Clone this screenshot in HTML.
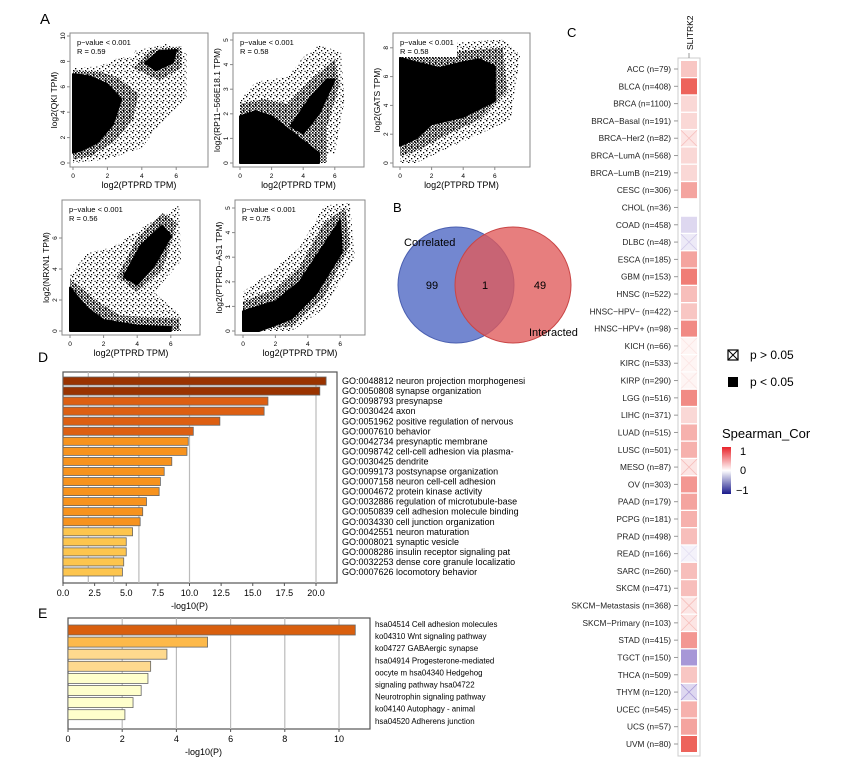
<!DOCTYPE html>
<html><head><meta charset="utf-8">
<style>
html,body{margin:0;padding:0;background:#fff;}
svg{display:block;font-family:"Liberation Sans",Arial,sans-serif;}
</style></head>
<body>
<svg id="fig" width="847" height="779" viewBox="0 0 847 779" xmlns="http://www.w3.org/2000/svg">
<defs>
<pattern id="sparse" width="6" height="6" patternUnits="userSpaceOnUse"><rect x="0" y="0" width="1.4" height="1.4" fill="#000"/><rect x="3" y="2" width="1.3" height="1.3" fill="#000"/><rect x="1" y="4" width="1.2" height="1.2" fill="#000"/><rect x="4.5" y="4.8" width="1.1" height="1.1" fill="#000"/></pattern>
<pattern id="mid" width="3" height="3" patternUnits="userSpaceOnUse"><rect x="0" y="0" width="1.6" height="1.6" fill="#000"/><rect x="1.6" y="1.6" width="1.2" height="1.2" fill="#000"/></pattern>
<linearGradient id="cbar" x1="0" y1="0" x2="0" y2="1"><stop offset="0" stop-color="#e8232a"/><stop offset="0.5" stop-color="#ffffff"/><stop offset="1" stop-color="#1a1a8c"/></linearGradient>
</defs>
<g id="panelA"></g>
<text x="40" y="24" font-size="15">A</text>
<text x="393" y="212" font-size="13">B</text>
<text x="567" y="37" font-size="13">C</text>
<text x="38" y="362" font-size="14">D</text>
<text x="38" y="618" font-size="14">E</text>

<g>
<circle cx="456" cy="285" r="58" fill="#5b72c8" fill-opacity="0.85" stroke="#4a5fb0"/>
<circle cx="513" cy="285" r="58" fill="#e05a5a" fill-opacity="0.78" stroke="#c94545"/>
<text x="404" y="246" font-size="11">Correlated</text>
<text x="529" y="336" font-size="11">Interacted</text>
<text x="432" y="289" font-size="11" text-anchor="middle">99</text>
<text x="485" y="289" font-size="11" text-anchor="middle">1</text>
<text x="540" y="289" font-size="11" text-anchor="middle">49</text>
</g>

<g id="panelD"></g>
<g id="panelE"></g>
<g id="panelC"></g>

<g>
<rect x="728" y="350" width="10" height="10" fill="#fff" stroke="#000" stroke-width="1.2"/>
<line x1="728" y1="350" x2="738" y2="360" stroke="#000"/><line x1="738" y1="350" x2="728" y2="360" stroke="#000"/>
<text x="750" y="359" font-size="12">p &gt; 0.05</text>
<rect x="728" y="377" width="10" height="10" fill="#000"/>
<text x="750" y="386" font-size="12">p &lt; 0.05</text>
</g>
<g>
<text x="722" y="438" font-size="13">Spearman_Cor</text>
<rect x="722" y="447" width="9" height="47" fill="url(#cbar)"/>
<text x="740" y="455" font-size="11">1</text>
<text x="740" y="474" font-size="11">0</text>
<text x="736" y="494" font-size="11">−1</text>
</g>
</svg>
<script>
const NS="http://www.w3.org/2000/svg";
function mk(tag,attrs,parent,text){const e=document.createElementNS(NS,tag);for(const k in attrs)e.setAttribute(k,attrs[k]);if(text!==undefined)e.textContent=text;parent.appendChild(e);return e;}

// ---------- Panel D data ----------
const goTerms=["GO:0048812 neuron projection morphogenesi","GO:0050808 synapse organization","GO:0098793 presynapse","GO:0030424 axon","GO:0051962 positive regulation of nervous","GO:0007610 behavior","GO:0042734 presynaptic membrane","GO:0098742 cell-cell adhesion via plasma-","GO:0030425 dendrite","GO:0099173 postsynapse organization","GO:0007158 neuron cell-cell adhesion","GO:0004672 protein kinase activity","GO:0032886 regulation of microtubule-base","GO:0050839 cell adhesion molecule binding","GO:0034330 cell junction organization","GO:0042551 neuron maturation","GO:0008021 synaptic vesicle","GO:0008286 insulin receptor signaling pat","GO:0032253 dense core granule localizatio","GO:0007626 locomotory behavior"];
const goValues=[20.8,20.3,16.2,15.9,12.4,10.3,9.9,9.8,8.6,8.0,7.7,7.6,6.6,6.3,6.1,5.5,5.0,5.0,4.8,4.7];
const goTicks=[0,2.5,5,7.5,10,12.5,15,17.5,20];
const goTickLabels=["0.0","2.5","5.0","7.5","10.0","12.5","15.0","17.5","20.0"];
const goGrid=[2,4,6,10,20];
// ---------- Panel E data ----------
const keggTerms=["hsa04514 Cell adhesion molecules","ko04310 Wnt signaling pathway","ko04727 GABAergic synapse","hsa04914 Progesterone-mediated","oocyte m hsa04340 Hedgehog","signaling pathway hsa04722","Neurotrophin signaling pathway","ko04140 Autophagy - animal","hsa04520 Adherens junction"];
const keggValues=[10.6,5.15,3.65,3.05,2.95,2.7,2.4,2.1];
const keggTicks=[0,2,4,6,8,10];
const keggGrid=[2,4,6,8,10];
// ---------- Panel C data ----------
const cancers=["ACC (n=79)","BLCA (n=408)","BRCA (n=1100)","BRCA−Basal (n=191)","BRCA−Her2 (n=82)","BRCA−LumA (n=568)","BRCA−LumB (n=219)","CESC (n=306)","CHOL (n=36)","COAD (n=458)","DLBC (n=48)","ESCA (n=185)","GBM (n=153)","HNSC (n=522)","HNSC−HPV− (n=422)","HNSC−HPV+ (n=98)","KICH (n=66)","KIRC (n=533)","KIRP (n=290)","LGG (n=516)","LIHC (n=371)","LUAD (n=515)","LUSC (n=501)","MESO (n=87)","OV (n=303)","PAAD (n=179)","PCPG (n=181)","PRAD (n=498)","READ (n=166)","SARC (n=260)","SKCM (n=471)","SKCM−Metastasis (n=368)","SKCM−Primary (n=103)","STAD (n=415)","TGCT (n=150)","THCA (n=509)","THYM (n=120)","UCEC (n=545)","UCS (n=57)","UVM (n=80)"];
const corValues=[0.22,0.6,0.15,0.15,0.1,0.15,0.15,0.35,0,-0.15,-0.08,0.35,0.5,0.25,0.22,0.45,0.04,0.04,0.04,0.45,0.15,0.3,0.3,0.1,0.4,0.35,0.3,0.25,-0.05,0.25,0.25,0.1,0.1,0.4,-0.4,0.22,-0.15,0.3,0.35,0.6];
const nsFlags=[0,0,0,0,1,0,0,0,0,0,1,0,0,0,0,0,1,1,1,0,0,0,0,1,0,0,0,0,1,0,0,1,1,0,0,0,1,0,0,0];

// ===== Panel D =====
(function(){
const g=document.getElementById('panelD');
const L=63,R=337,T=372,B=583,x0=63,pu=12.65;
const X=v=>x0+v*pu;
const n=goValues.length, step=(B-T-10)/n, bh=step-2;
const frame=mk('rect',{x:L,y:T,width:R-L,height:B-T,fill:'#fff',stroke:'#555','stroke-width':1.2},g);


goGrid.forEach(v=>{const l=mk('line',{x1:X(v),x2:X(v),y1:T,y2:B,stroke:'#bbb','stroke-width':1.2},g);

});
function col(i){return i<2?'#9a3300':i<6?'#dd5f12':i<15?'#f7931e':'#fdc54e';}
goValues.forEach((v,i)=>{const y=T+5+i*step;
const r=mk('rect',{x:X(0),y:y,width:X(v)-X(0),height:bh,fill:col(i),stroke:'#666','stroke-width':0.8},g);


const t=mk('text',{x:R+5,y:y+bh-1,'font-size':9},g,goTerms[i]);

});
goTicks.forEach((v,i)=>{mk('line',{x1:X(v),x2:X(v),y1:B,y2:B+3,stroke:'#555'},g);
const t=mk('text',{x:X(v),y:B+13,'font-size':9,'text-anchor':'middle'},g,goTickLabels[i]);

});
const xt=mk('text',{x:X(10),y:B+26,'font-size':9,'text-anchor':'middle'},g,'-log10(P)');


})();

// ===== Panel E =====
(function(){
const g=document.getElementById('panelE');
const L=68,R=370,T=618,B=729,x0=68,pu=27.1;
const X=v=>x0+v*pu;
const step=12.1, bh=10;
const f=mk('rect',{x:L,y:T,width:R-L,height:B-T,fill:'#fff',stroke:'#555','stroke-width':1.2},g);


keggGrid.forEach(v=>{const l=mk('line',{x1:X(v),x2:X(v),y1:T,y2:B,stroke:'#bbb','stroke-width':1.2},g);

});
const cols=['#d95f0e','#fdb94a','#fed98e','#fed98e','#ffffcc','#ffffcc','#ffffcc','#ffffcc'];
keggValues.forEach((v,i)=>{const y=T+7+i*step;
const r=mk('rect',{x:X(0),y:y,width:X(v)-X(0),height:bh,fill:cols[i],stroke:'#666','stroke-width':0.8},g);

});
keggTerms.forEach((s,i)=>{const t=mk('text',{x:R+5,y:T+9+i*12.1,'font-size':7.9},g,s);

});
keggTicks.forEach(v=>{mk('line',{x1:X(v),x2:X(v),y1:B,y2:B+3,stroke:'#555'},g);
const t=mk('text',{x:X(v),y:B+13,'font-size':9,'text-anchor':'middle'},g,String(v));

});
const xt=mk('text',{x:X(5),y:B+26,'font-size':9,'text-anchor':'middle'},g,'-log10(P)');


})();

// ===== Panel C =====
(function(){
const g=document.getElementById('panelC');
const top=69, step=(744-69)/(cancers.length-1), cx=681, cw=16;
const f=mk('rect',{x:678,y:58,width:22,height:698,fill:'#fff',stroke:'#ccc','stroke-width':1},g);


const h=mk('text',{x:0,y:0,'font-size':8.5,transform:'translate(693,50) rotate(-90)'},g,'SLITRK2');


mk('line',{x1:689,x2:689,y1:53,y2:58,stroke:'#999'},g);
function color(v){const a=Math.min(1,Math.abs(v)/0.75);
const t=v>=0?[232,60,50]:[90,60,180];
return 'rgb('+t.map(c=>Math.round(255+(c-255)*a)).join(',')+')';}
cancers.forEach((c,i)=>{const y=top+i*step;
const t=mk('text',{x:671,y:y+3,'font-size':8.3,'text-anchor':'end',fill:'#222'},g,c);


mk('line',{x1:674,x2:678,y1:y,y2:y,stroke:'#999'},g);
const r=mk('rect',{x:cx,y:y-8,width:cw,height:16,fill:color(corValues[i])},g);


if(nsFlags[i]){const col=color(corValues[i]*2.5);
mk('line',{x1:cx,y1:y-8,x2:cx+cw,y2:y+8,stroke:col,'stroke-width':0.8},g);
mk('line',{x1:cx+cw,y1:y-8,x2:cx,y2:y+8,stroke:col,'stroke-width':0.8},g);}
});
})();

// ===== Panel A scatter plots =====
const plots=[
 {name:'qki',L:70,T:33,W:138,H:134,x0:73,xs:17.2,y0:163,ys:12.7,xt:[0,2,4,6],yt:[0,2,4,6,8,10],ylab:'log2(QKI TPM)',R:'R = 0.59',
  sparse:[[0,0],[0,7.5],[1.5,7.6],[3.5,8.8],[5.5,9.4],[6.6,8.6],[6.6,5.2],[5,3],[4,1.2],[2,0.3]],
  mid:[[[0,0.3],[0,7.3],[1.5,7.2],[2.5,6.8],[3.8,5.5],[3.5,3.5],[2.5,1.8],[1,0.5]],[[3.5,7.5],[4.5,8.9],[6.3,9.2],[6.3,7.5],[5,6.5]]],
  dense:[[[0,0.8],[0,7],[1,6.8],[2,6.2],[2.8,5],[2.3,3],[1.4,1.6],[0.5,1]],[[4.2,7.9],[5,8.8],[6,8.9],[5.8,7.9],[4.8,7.3]]]},
 {name:'rp11',L:233,T:33,W:131,H:134,x0:240,xs:15.8,y0:163,ys:24.6,xt:[0,2,4,6],yt:[0,1,2,3,4,5],ylab:'log2(RP11−566E18.1 TPM)',R:'R = 0.58',
  sparse:[[0,0],[0,2.6],[1,3.3],[3,3.5],[4,4.3],[5,4.8],[6.4,4.5],[6.6,2.5],[6,0.4]],
  mid:[[[0,0],[0,2.4],[1.5,2.6],[3,2.4],[4.5,3.4],[6,4.2],[6.3,3.2],[5.5,1.5],[5.5,0]]],
  dense:[[[0,0],[0,1.9],[1,2.1],[2,1.9],[3,1.4],[4,0.9],[5,0.4],[5,0]],[[3.2,1.5],[4.5,2.7],[5.5,3.4],[6,3.4],[5,2],[4,1.2]]]},
 {name:'gats',L:393,T:33,W:137,H:134,x0:400,xs:15.8,y0:163,ys:14.4,xt:[0,2,4,6],yt:[0,2,4,6,8],ylab:'log2(GATS TPM)',R:'R = 0.58',
  sparse:[[0,0],[0,8.5],[3,8.3],[6.5,8.6],[7.6,7.5],[7,3],[4,1.5],[1,0]],
  mid:[[[0,0.5],[0,8],[2,7.6],[4,7.8],[6.5,8],[6.8,5],[5,3],[3,2],[1,0.8]]],
  dense:[[[0,1.2],[0,7.3],[1,7],[2.5,6.6],[4,7],[5,7.2],[6,6.7],[6,4.3],[4,3.2],[2,2.7],[1,1.7]]]},
 {name:'nrxn1',L:62,T:200,W:138,H:135,x0:70,xs:16.8,y0:331,ys:15.5,xt:[0,2,4,6],yt:[0,2,4,6],ylab:'log2(NRXN1 TPM)',R:'R = 0.56',
  sparse:[[0,0],[0,3.6],[1,5],[2.5,5.4],[4.5,6.8],[6.5,8.1],[6.6,4.5],[5,2.5],[6.6,1],[6.6,0]],
  mid:[[[0,0],[0,3.4],[1.5,2],[3,1],[6.5,0.8],[6.5,0]],[[2.8,3.5],[4,6],[5.5,7.6],[6.4,7],[5.5,4],[4,2.5]]],
  dense:[[[0,0],[0,2.8],[1,1.5],[2,0.7],[4,0.35],[6,0.25],[6,0],[0,0]],[[3.2,3.5],[4.2,5.5],[5.5,6.8],[6,6.1],[5,4.2],[4,3]]]},
 {name:'ptprd-as1',L:235,T:200,W:130,H:135,x0:243,xs:16.2,y0:331,ys:24.6,xt:[0,2,4,6],yt:[0,1,2,3,4,5],ylab:'log2(PTPRD−AS1 TPM)',R:'R = 0.75',
  sparse:[[0,0],[0,1.6],[1.5,2.3],[3.5,3.4],[5,5.1],[6.6,5.2],[6.9,3],[5,0.9],[3,0]],
  mid:[[[0,0],[0,1.2],[2,1.7],[3.5,2.6],[5,4.4],[6.3,5],[6.6,3.5],[5,1.4],[3,0.2]]],
  dense:[[[0,0],[0,0.8],[2,1.2],[3.5,2],[5,3.5],[6,4.5],[6.1,3.2],[4.5,1.5],[3,0.5],[1,0]]]}
];
(function(){
const g=document.getElementById('panelA');
plots.forEach(p=>{
 const X=v=>p.x0+v*p.xs, Y=v=>p.y0-v*p.ys;
 const pg=mk('g',{},g);
 
 
 const pts=a=>a.map(q=>X(q[0]).toFixed(1)+','+Y(q[1]).toFixed(1)).join(' ');
 const s=mk('polygon',{points:pts(p.sparse),fill:'url(#sparse)'},pg);
 
 
 p.mid.forEach(d=>{const e=mk('polygon',{points:pts(d),fill:'url(#mid)'},pg);
 
 });
 p.dense.forEach(d=>{const e=mk('polygon',{points:pts(d),fill:'#000','stroke':'#000','stroke-width':2,'stroke-linejoin':'round'},pg);
 
 });
 const f=mk('rect',{x:p.L,y:p.T,width:p.W,height:p.H,fill:'none',stroke:'#888','stroke-width':1},pg);
 
 
 const bx=p.L+7,by=p.T+4;
 mk('rect',{x:bx-1,y:by,width:58,height:20,fill:'#fff'},pg);
 const t1=mk('text',{x:bx,y:by+8,'font-size':7.5},pg,'p−value < 0.001');
 
 
 const t2=mk('text',{x:bx,y:by+17,'font-size':7.5},pg,p.R);
 
 
 p.xt.forEach(v=>{mk('line',{x1:X(v),x2:X(v),y1:p.T+p.H,y2:p.T+p.H+3,stroke:'#888'},pg);
 const t=mk('text',{x:X(v),y:p.T+p.H+11,'font-size':6.5,'text-anchor':'middle'},pg,String(v));
 
 });
 p.yt.forEach(v=>{mk('line',{x1:p.L-3,x2:p.L,y1:Y(v),y2:Y(v),stroke:'#888'},pg);
 const t=mk('text',{x:0,y:0,'font-size':6.5,'text-anchor':'middle',transform:'translate('+(p.L-5)+','+Y(v)+') rotate(-90)'},pg,String(v));
 
 });
 const xl=mk('text',{x:p.L+p.W/2,y:p.T+p.H+21,'font-size':9,'text-anchor':'middle'},pg,'log2(PTPRD TPM)');
 
 
 const yl=mk('text',{x:0,y:0,'font-size':8.5,'text-anchor':'middle',transform:'translate('+(p.L-13)+','+(p.T+p.H/2)+') rotate(-90)'},pg,p.ylab);
 
 
});
})();
</script>
</body></html>
